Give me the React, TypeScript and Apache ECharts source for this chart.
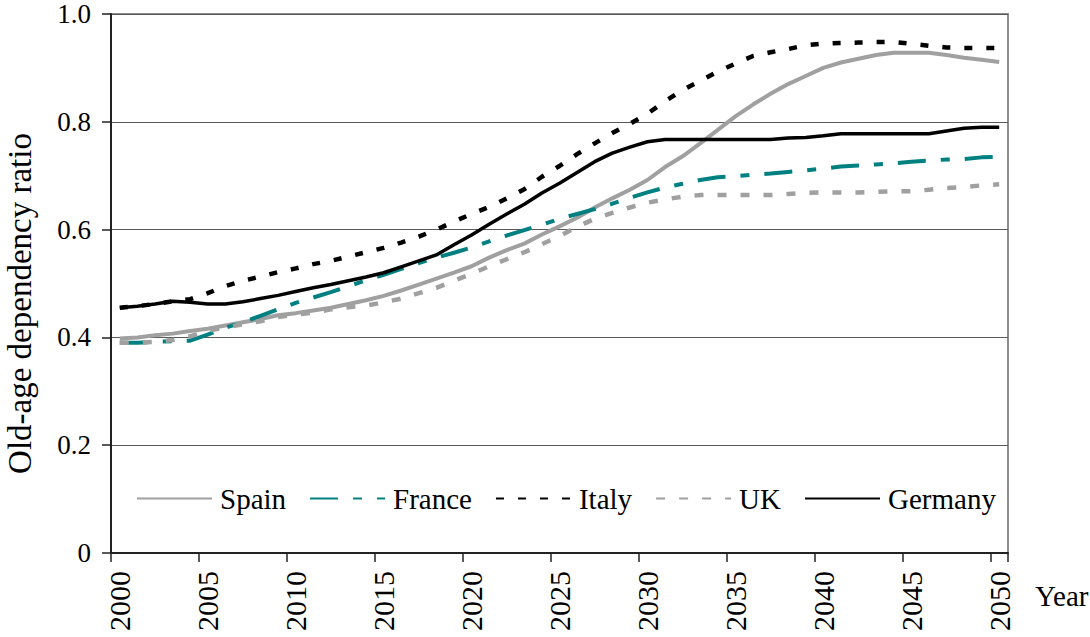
import React, { useEffect, useRef } from "react";
import * as echarts from "echarts";

const years: string[] = [];
for (let y = 2000; y <= 2050; y++) years.push(String(y));

const spain = [
  0.398, 0.400, 0.404, 0.407, 0.412, 0.416, 0.422, 0.428, 0.434, 0.441,
  0.445, 0.450, 0.455, 0.462, 0.469, 0.477, 0.487, 0.498, 0.509, 0.520,
  0.532, 0.548, 0.562, 0.574, 0.591, 0.606, 0.622, 0.641, 0.658, 0.674,
  0.692, 0.716, 0.736, 0.760, 0.785, 0.810, 0.832, 0.852, 0.870, 0.885,
  0.900, 0.910, 0.917, 0.924, 0.928, 0.928, 0.928, 0.924, 0.919, 0.915,
  0.911,
];

const france = [
  0.390, 0.390, 0.392, 0.393, 0.394, 0.405, 0.418, 0.428, 0.440, 0.452,
  0.464, 0.474, 0.484, 0.495, 0.506, 0.516, 0.527, 0.538, 0.548, 0.557,
  0.567, 0.578, 0.589, 0.599, 0.609, 0.620, 0.629, 0.638, 0.648, 0.659,
  0.669, 0.678, 0.685, 0.692, 0.697, 0.699, 0.702, 0.704, 0.707, 0.710,
  0.713, 0.717, 0.719, 0.721, 0.723, 0.726, 0.728, 0.730, 0.731, 0.734,
  0.735,
];

const italy = [
  0.455, 0.458, 0.462, 0.467, 0.471, 0.482, 0.495, 0.505, 0.513, 0.521,
  0.528, 0.536, 0.542, 0.550, 0.558, 0.566, 0.576, 0.587, 0.600, 0.615,
  0.629, 0.642, 0.658, 0.675, 0.698, 0.718, 0.740, 0.760, 0.779, 0.796,
  0.815, 0.838, 0.859, 0.876, 0.893, 0.908, 0.922, 0.929, 0.935, 0.942,
  0.945, 0.946, 0.947, 0.948, 0.948, 0.945, 0.941, 0.938, 0.937, 0.937,
  0.937,
];

const uk = [
  0.390, 0.390, 0.392, 0.395, 0.402, 0.412, 0.419, 0.424, 0.430, 0.438,
  0.442, 0.446, 0.452, 0.456, 0.459, 0.465, 0.472, 0.482, 0.492, 0.505,
  0.518, 0.532, 0.545, 0.558, 0.573, 0.588, 0.605, 0.620, 0.631, 0.641,
  0.650, 0.656, 0.661, 0.664, 0.664, 0.664, 0.664, 0.664, 0.666, 0.668,
  0.669, 0.669, 0.669, 0.670, 0.671, 0.671, 0.674, 0.677, 0.679, 0.682,
  0.684,
];

const germany = [
  0.455, 0.458, 0.462, 0.467, 0.465, 0.462, 0.462, 0.466, 0.472, 0.478,
  0.485, 0.492, 0.498, 0.505, 0.512, 0.520, 0.531, 0.542, 0.553, 0.572,
  0.590, 0.610, 0.629, 0.647, 0.668, 0.686, 0.706, 0.726, 0.742, 0.753,
  0.763, 0.767, 0.767, 0.767, 0.767, 0.767, 0.767, 0.767, 0.770, 0.771,
  0.774, 0.778, 0.778, 0.778, 0.778, 0.778, 0.778, 0.783, 0.788, 0.790,
  0.790,
];

const FONT = "'Liberation Serif', 'Times New Roman', serif";

export default function App() {
  const ref = useRef<HTMLDivElement>(null);
  useEffect(() => {
    if (!ref.current) return;
    const chart = echarts.init(ref.current, undefined, { renderer: "svg" });
    const mk = (name: string, data: number[], color: string, width: number, type: any) => ({
      name,
      type: "line",
      data,
      symbol: "none",
      showSymbol: false,
      smooth: false,
      lineStyle: { color, width, type, cap: "butt" },
      itemStyle: { color },
    });
    chart.setOption({
      animation: false,
      backgroundColor: "#ffffff",
      textStyle: { fontFamily: FONT, color: "#000" },
      grid: {
        left: 111,
        top: 14,
        right: 82,
        bottom: 84,
        containLabel: false,
        outerBoundsMode: "none",
        show: true,
        borderColor: "#8c8c8c",
        borderWidth: 2,
        backgroundColor: "transparent",
      },
      legend: {
        left: 136,
        top: 484,
        padding: 0,
        itemWidth: 75,
        itemHeight: 10,
        itemGap: 23,
        itemStyle: { opacity: 0 },
        textStyle: { fontFamily: FONT, fontSize: 29, color: "#000", padding: [0, 0, 0, 3] },
        data: ["Spain", "France", "Italy", "UK", "Germany"],
      },
      xAxis: {
        type: "category",
        data: years,
        boundaryGap: true,
        name: "Year",
        nameLocation: "end",
        nameGap: 27,
        nameTextStyle: {
          fontFamily: FONT,
          fontSize: 29,
          color: "#000",
          verticalAlign: "top",
          align: "left",
          padding: [28, 0, 0, 0],
        },
        axisLine: { lineStyle: { color: "#222", width: 2 } },
        axisTick: { show: true, interval: 4, length: 9, lineStyle: { color: "#222", width: 1.5 } },
        axisLabel: {
          interval: 4,
          rotate: 90,
          margin: 18,
          fontFamily: FONT,
          fontSize: 30,
          color: "#000",
        },
        splitLine: { show: false },
      },
      yAxis: {
        type: "value",
        min: 0,
        max: 1,
        interval: 0.2,
        name: "Old-age dependency ratio",
        nameLocation: "middle",
        nameGap: 75,
        nameTextStyle: { fontFamily: FONT, fontSize: 33, color: "#000", padding: [0, 40, 0, 0] },
        axisLine: { show: true, lineStyle: { color: "#222", width: 2 } },
        axisTick: { show: true, length: 9, lineStyle: { color: "#222", width: 1.5 } },
        axisLabel: {
          margin: 20,
          fontFamily: FONT,
          fontSize: 27,
          lineHeight: 22,
          color: "#000",
          formatter: (v: number) => (v === 0 ? "0" : v.toFixed(1)),
        },
        splitLine: { show: true, lineStyle: { color: "#5a5a5a", width: 1.2 } },
      },
      series: [
        mk("Spain", spain, "#a0a0a0", 4, "solid"),
        mk("France", france, "#008080", 4, [28, 15, 9, 15]),
        mk("Italy", italy, "#000000", 4.5, [8, 14]),
        mk("UK", uk, "#a0a0a0", 4.5, [9, 14]),
        mk("Germany", germany, "#000000", 3.5, "solid"),
      ],
    });
    return () => chart.dispose();
  }, []);
  return (
    <div
      ref={ref}
      style={{ position: "fixed", left: 0, top: 0, width: 1090, height: 637 }}
    />
  );
}
